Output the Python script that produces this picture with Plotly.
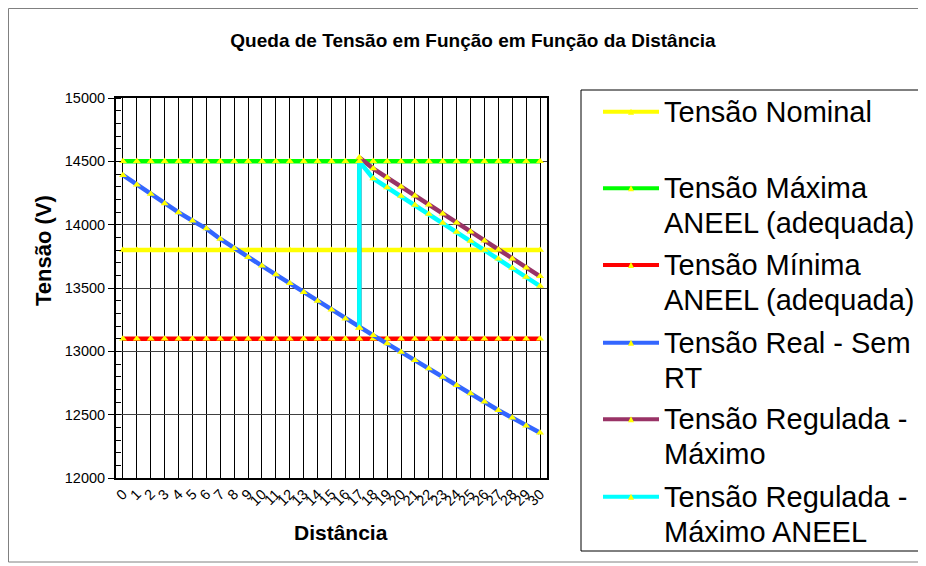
import plotly.graph_objects as go

distancia = list(range(0, 31))
tick_labels = [str(d) for d in distancia]

tensao_nominal = [13800] * 31
tensao_maxima = [14500] * 31
tensao_minima = [13100] * 31
tensao_real = [14391, 14315, 14242, 14168, 14097, 14031, 13969, 13887, 13813, 13743,
               13675, 13606, 13537, 13467, 13398, 13328, 13258, 13187, 13126, 13061,
               12994, 12929, 12864, 12798, 12732, 12667, 12601, 12535, 12475, 12412,
               12357]
# Regulated series start at km 17 (vertical jump at the regulator)
reg_max_x = [17, 17, 18, 19, 20, 21, 22, 23, 24, 25, 26, 27, 28, 29, 30]
reg_max_y = [13187, 14530, 14443, 14372, 14300, 14228, 14157, 14086, 14015, 13944,
             13873, 13802, 13731, 13660, 13592]
reg_aneel_x = [17, 17, 18, 19, 20, 21, 22, 23, 24, 25, 26, 27, 28, 29, 30]
reg_aneel_y = [13187, 14500, 14365, 14294, 14226, 14155, 14084, 14013, 13943, 13872,
               13800, 13730, 13658, 13586, 13515]

legend_lines = [
    ["Tensão Nominal"],
    ["Tensão Máxima", "ANEEL (adequada)"],
    ["Tensão Mínima", "ANEEL (adequada)"],
    ["Tensão Real - Sem", "RT"],
    ["Tensão Regulada -", "Máximo"],
    ["Tensão Regulada -", "Máximo ANEEL"],
]
colors = ["#FFFF00", "#00FF00", "#FF0000", "#3366FF", "#993366", "#00FFFF"]
xs_list = [distancia, distancia, distancia, distancia, reg_max_x, reg_aneel_x]
ys_list = [tensao_nominal, tensao_maxima, tensao_minima, tensao_real, reg_max_y, reg_aneel_y]

fig = go.Figure()
for lines, xs, ys, color in zip(legend_lines, xs_list, ys_list, colors):
    fig.add_trace(go.Scatter(
        x=xs, y=ys, name=" ".join(lines), mode="lines+markers", showlegend=False,
        line=dict(color=color, width=4.5),
        marker=dict(symbol="triangle-up", color="#FFFF00", size=7, line=dict(width=0)),
    ))

# page has an 8px body margin: figure is offset by 8px
W, H = 910, 558
L, R, T, B = 108, 539, 90, 470
pw, ph = R - L, B - T

def px(x):
    return (x - L) / pw

def py(y):
    return (B - y) / ph

def hline(x0, x1, y, color, width):
    return dict(type="line", xref="paper", yref="paper",
                x0=px(x0), x1=px(x1), y0=py(y), y1=py(y),
                line=dict(color=color, width=width))

def vline(x, y0, y1, color, width):
    return dict(type="line", xref="paper", yref="paper",
                x0=px(x), x1=px(x), y0=py(y0), y1=py(y1),
                line=dict(color=color, width=width))

shapes = [
    # chart area border (right edge lies outside the picture)
    vline(0.5, 0.5, 554, "#808080", 1),
    hline(0.5, W, 0.5, "#808080", 1),
    hline(0.5, W, 554, "#808080", 1),
    # legend box (right edge outside the picture)
    vline(573, 82, 543, "black", 1),
    hline(573, W, 82, "black", 1),
    hline(573, W, 543, "black", 1),
]
annotations = []
item_y = [103.7, 180.3, 257.0, 334.7, 411.3, 488.7]
line_gap = 35
for lines, color, yc in zip(legend_lines, colors, item_y):
    shapes.append(hline(595, 651, yc, color, 4))
    tx, ty = 623, yc
    shapes.append(dict(type="path", xref="paper", yref="paper",
                       path=f"M {px(tx-3)},{py(ty+3)} L {px(tx+3)},{py(ty+3)} L {px(tx)},{py(ty-3)} Z",
                       fillcolor="#FFFF00", line=dict(width=0)))
    for i, t in enumerate(lines):
        annotations.append(dict(text=t, xref="paper", yref="paper",
                                x=px(654), y=py(yc + i * line_gap),
                                xanchor="left", yanchor="middle", showarrow=False,
                                font=dict(size=29)))

# axis titles (placed where the reference has them)
annotations.append(dict(text="<b>Tensão (V)</b>", xref="paper", yref="paper",
                        x=px(35), y=py(243), xanchor="center", yanchor="middle",
                        textangle=-90, showarrow=False, font=dict(size=22)))
annotations.append(dict(text="<b>Distância</b>", xref="paper", yref="paper",
                        x=px(333), y=py(524), xanchor="center", yanchor="middle",
                        showarrow=False, font=dict(size=21)))

fig.update_layout(
    width=W, height=H,
    margin=dict(l=L, r=W - R, t=T, b=H - B, pad=0),
    paper_bgcolor="white", plot_bgcolor="white",
    font=dict(family="Liberation Sans, Arial, sans-serif", color="black"),
    title=dict(text="<b>Queda de Tensão em Função em Função da Distância</b>",
               x=465 / W, xanchor="center", y=1 - 32 / H, yanchor="middle",
               font=dict(size=19)),
    showlegend=False,
    shapes=shapes,
    annotations=annotations,
)

fig.update_xaxes(
    range=[-0.5, 30.5], tickmode="array", tickvals=distancia, ticktext=tick_labels,
    tickangle=-45, tickfont=dict(size=14.5),
    showgrid=True, gridcolor="black", gridwidth=1,
    showline=True, linecolor="black", linewidth=2, mirror=True,
    ticks="", zeroline=False,
)
fig.update_yaxes(
    range=[12000, 15000], tickmode="linear", tick0=12000, dtick=500, tickformat="d",
    tickfont=dict(size=14.5),
    showgrid=True, gridcolor="#404040", gridwidth=1,
    showline=True, linecolor="black", linewidth=2, mirror=True,
    ticks="outside", ticklen=6, tickcolor="black",
    minor=dict(dtick=100, ticks="inside", ticklen=5, tickcolor="black", showgrid=False),
    zeroline=False,
)

fig.write_html("out.html")
